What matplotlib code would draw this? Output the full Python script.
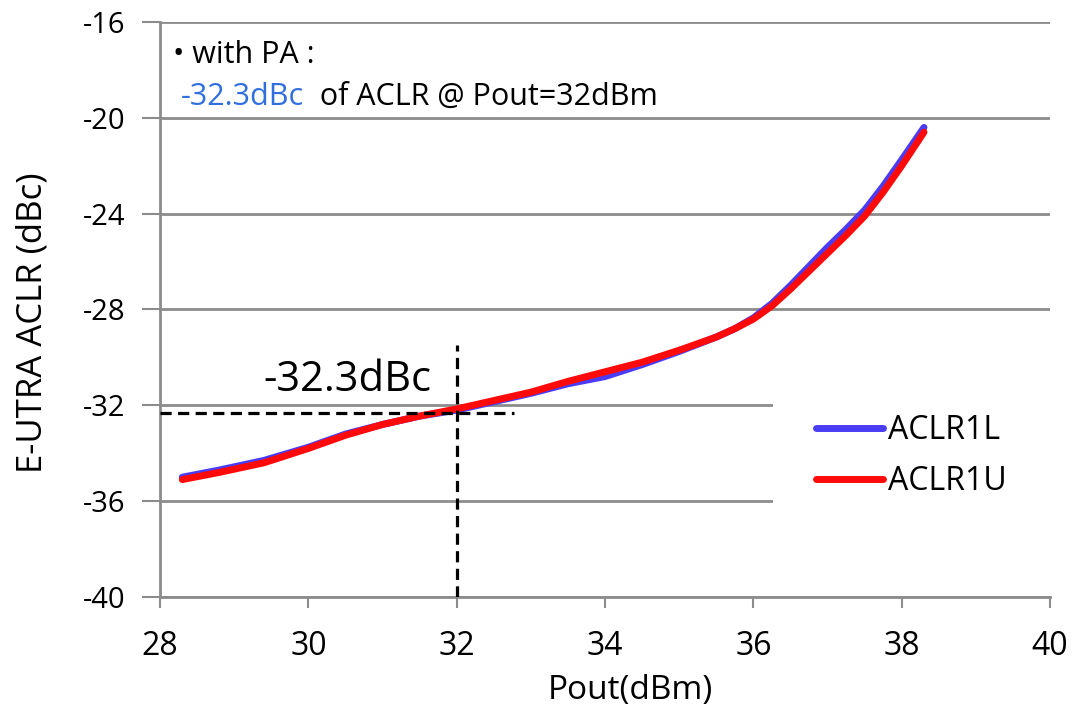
import matplotlib
matplotlib.use("Agg")
import matplotlib.pyplot as plt

plt.rcParams['font.family'] = ['Open Sans', 'DejaVu Sans']
plt.rcParams['axes.unicode_minus'] = False

pout = [28.3, 28.8, 29.4, 30.0, 30.5, 31.0, 31.5, 32.0, 32.5, 33.0, 33.5,
        34.0, 34.5, 35.0, 35.5, 35.75, 36.0, 36.25, 36.5, 36.75, 37.0, 37.25, 37.5,
        37.75, 38.0, 38.3]
aclr1l = [-35.0, -34.7, -34.3, -33.75, -33.2, -32.8, -32.45, -32.2, -31.85, -31.5, -31.1,
          -30.8, -30.3, -29.75, -29.15, -28.8, -28.35, -27.75, -27.0, -26.2, -25.4, -24.65, -23.85,
          -22.85, -21.75, -20.4]
aclr1u = [-35.1, -34.8, -34.4, -33.8, -33.25, -32.8, -32.45, -32.15, -31.8, -31.45, -31.0,
          -30.6, -30.2, -29.7, -29.15, -28.8, -28.4, -27.85, -27.15, -26.4, -25.65, -24.9, -24.1,
          -23.1, -22.0, -20.6]
xticks = [28, 30, 32, 34, 36, 38, 40]
yticks = [-40, -36, -32, -28, -24, -20, -16]
mark_x = 32
mark_y = -32.3

fig = plt.figure(figsize=(10.77, 7.17), dpi=100)
ax = fig.add_axes([0.1486, 0.1674, 0.8264, 0.8019])
ax.set_xlim(28, 40)
ax.set_ylim(-40, -16)

grid_c = '#8c8c8c'
ax.set_yticks(yticks)
ax.set_xticks(xticks)
ax.yaxis.grid(True, color=grid_c, linewidth=2)
ax.set_axisbelow(True)
for s in ['top', 'right']:
    ax.spines[s].set_visible(False)
for s in ['left', 'bottom']:
    ax.spines[s].set_color(grid_c)
    ax.spines[s].set_linewidth(2)
ax.tick_params(axis='x', colors=grid_c, length=8, width=1.5, pad=16, labelsize=23, labelcolor='black')
ax.tick_params(axis='y', colors=grid_c, length=13, width=1.5, pad=12, labelsize=21, labelcolor='black')

ax.plot(pout, aclr1l, color='#4a3cf5', linewidth=5, solid_capstyle='round',
        solid_joinstyle='round', label='ACLR1L', zorder=3)
ax.plot(pout, aclr1u, color='#ff0a0a', linewidth=5, solid_capstyle='round',
        solid_joinstyle='round', label='ACLR1U', zorder=4)

# dashed marker lines
ax.plot([28, 32.77], [mark_y, mark_y], color='black', linestyle=(0, (3.5, 2)), linewidth=2.3, zorder=5)
ax.plot([mark_x, mark_x], [-40, -29.5], color='black', linestyle=(0, (3.5, 2)), linewidth=2.3, zorder=5)
ax.text(30.53, -30.95, '-32.3dBc', fontsize=30, ha='center', va='center', zorder=6)

# annotation text
ax.text(28.18, -17.38, '\u2022 with PA :', fontsize=22, ha='left', va='center')
t1 = ax.text(28.28, -19.13, '-32.3dBc', fontsize=22, ha='left', va='center', color='#2f6fe0')
fig.canvas.draw()
ax.annotate('  of ACLR @ Pout=32dBm', xy=(1, 0.5), xycoords=t1, fontsize=22,
            ha='left', va='center', color='black')

leg = ax.legend(loc='center left', bbox_to_anchor=(0.689, 0.245, 0.311, 0.0), mode='expand',
                fontsize=23, frameon=True, facecolor='white', edgecolor='none', framealpha=1,
                handlelength=2.1, handletextpad=0.15, labelspacing=0.55, borderpad=1.35,
                borderaxespad=0.0, fancybox=False)
for h in leg.legend_handles:
    h.set_linewidth(5)

ax.set_xlabel('Pout(dBm)', fontsize=24)
ax.xaxis.set_label_coords(0.529, -0.134)
ax.set_ylabel('E-UTRA ACLR (dBc)', fontsize=25)
ax.yaxis.set_label_coords(-0.124, 0.477)

fig.savefig('out.png', dpi=100)
